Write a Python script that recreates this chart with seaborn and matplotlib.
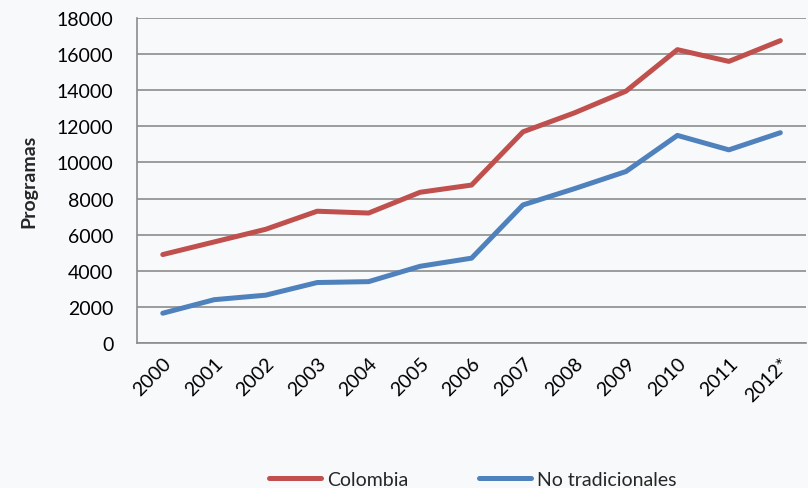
import pandas as pd
import seaborn as sns
import matplotlib.pyplot as plt

years = ["2000", "2001", "2002", "2003", "2004", "2005", "2006",
         "2007", "2008", "2009", "2010", "2011", "2012*"]
colombia = [4900, 5600, 6300, 7300, 7200, 8350, 8750,
            11700, 12750, 13950, 16250, 15600, 16750]
no_tradicionales = [1650, 2400, 2650, 3350, 3400, 4250, 4700,
                    7650, 8550, 9500, 11500, 10700, 11650]

df = pd.DataFrame({
    "pos": list(range(len(years))) * 2,
    "valor": colombia + no_tradicionales,
    "serie": ["Colombia"] * len(years) + ["No tradicionales"] * len(years),
})

sns.set_style("white")
plt.rcParams["font.family"] = ["Lato", "DejaVu Sans"]

fig = plt.figure(figsize=(8.08, 4.89), dpi=100, facecolor="#f8f9fa")
ax = fig.add_axes([0.1696, 0.2965, 0.828, 0.6645])
ax.set_facecolor("#f8f9fa")

sns.lineplot(data=df, x="pos", y="valor", hue="serie",
             palette={"Colombia": "#c0504d", "No tradicionales": "#4f81bd"},
             linewidth=3.6, ax=ax, legend=False)

ax.set_xlim(-0.5, len(years) - 0.5)
ax.set_ylim(0, 18000)
ax.set_yticks(range(0, 18001, 2000))
ax.set_xticks(range(len(years)))
ax.set_xticklabels(years, rotation=45, ha="right", rotation_mode="anchor")
ax.tick_params(axis="both", labelsize=14, length=0, colors="black")
ax.tick_params(axis="y", pad=17)
ax.tick_params(axis="x", pad=8)

ax.yaxis.grid(True, color="#8c8c8c", linewidth=1.2)
ax.set_axisbelow(True)
for side in ["top", "right"]:
    ax.spines[side].set_visible(False)
for side in ["left", "bottom"]:
    ax.spines[side].set_color("#8c8c8c")
    ax.spines[side].set_linewidth(1.2)

ax.set_xlabel("")
ax.set_ylabel("Programas", fontsize=14, fontweight="bold", labelpad=14)

handles = [plt.Line2D([], [], color="#c0504d", linewidth=3.6),
           plt.Line2D([], [], color="#4f81bd", linewidth=3.6)]
fig.legend(handles, ["Colombia", "No tradicionales"], loc="lower center",
           bbox_to_anchor=(0.585, -0.035), ncol=2, frameon=False, fontsize=14,
           handlelength=2.7, handletextpad=0.3, columnspacing=3.6)

fig.savefig("out.png", dpi=100, facecolor=fig.get_facecolor())
